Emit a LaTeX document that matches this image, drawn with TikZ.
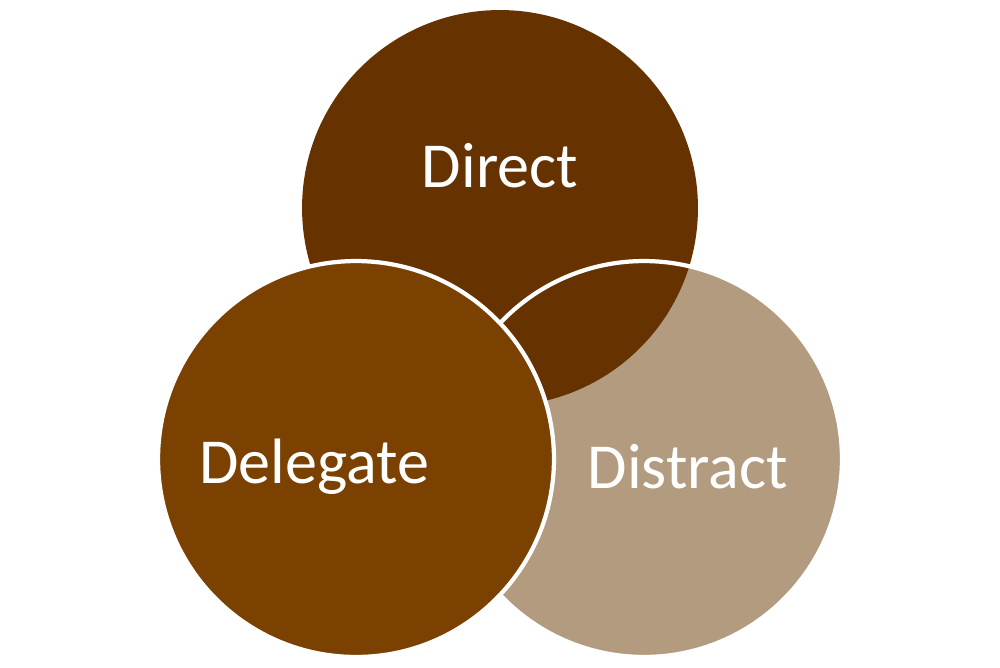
\documentclass[tikz,border=0pt]{standalone}
\usepackage{fontspec}
\setmainfont{Carlito}
\usepackage{xcolor}
\definecolor{directbrown}{RGB}{102,51,0}
\definecolor{delegatebrown}{RGB}{122,65,0}
\definecolor{distracttan}{RGB}{179,155,128}

\begin{document}
\begin{tikzpicture}[x=0.02cm,y=-0.02cm,
  lbl/.style={text=white,font=\fontsize{36.5}{44}\selectfont},
  rim/.style={draw=white,line width=2.4pt}]

\useasboundingbox (0,0) rectangle (1000,667);

% centres:
\coordinate (direct) at (500,208);
\coordinate (delegate) at (356,459);
\coordinate (distract) at (644,459);

% circles, back to front:
\fill[distracttan] (distract) circle[radius=3.96cm];
\fill[directbrown] (direct) circle[radius=3.96cm];
\draw[rim] (distract) circle[radius=3.96cm];
\fill[delegatebrown,rim] (delegate) circle[radius=3.96cm];

% labels:
\node[lbl] (directlbl) at (500,166) {Direct};
\node[lbl] (delegatelbl) at (314,467) {Delegate};
\node[lbl] (distractlbl) at (688,467) {Distract};

\end{tikzpicture}
\end{document}
